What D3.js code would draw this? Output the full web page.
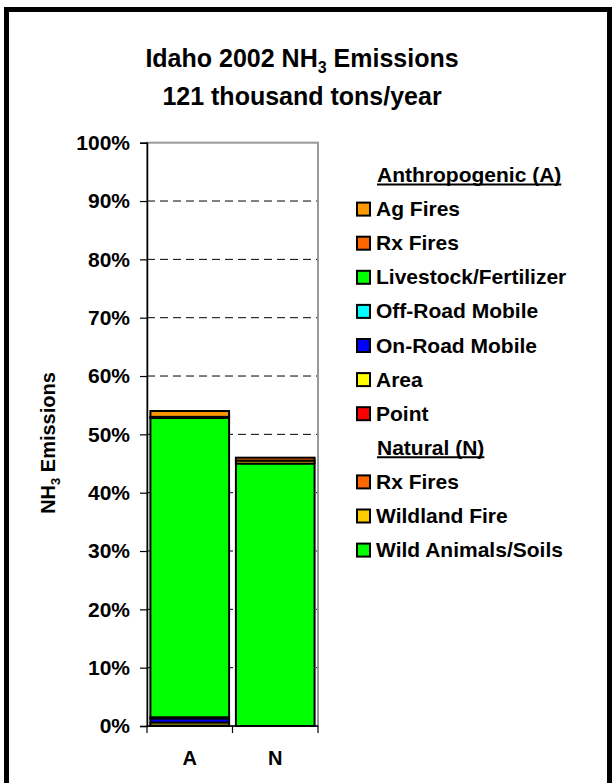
<!DOCTYPE html>
<html>
<head>
<meta charset="utf-8">
<script src="https://cdn.jsdelivr.net/npm/d3@7"></script>
<style>
  html, body { margin: 0; padding: 0; background: #fff; }
  svg { display: block; }
  text { font-family: "Liberation Sans", Arial, Helvetica, sans-serif; font-weight: bold; fill: #000; }
</style>
</head>
<body>
<script>
// ---- data ----
const categories = ["A", "N"];
// stacking order, bottom to top
const seriesNames = ["Wild Animals/Soils", "Wildland Fire", "Rx Fires (N)", "Point", "Area", "On-Road Mobile", "Off-Road Mobile", "Livestock/Fertilizer", "Rx Fires (A)", "Ag Fires"];
const seriesColors = ["#00FF00", "#FFCC00", "#FF6600", "#FF0000", "#FFFF00", "#0000FF", "#00FFFF", "#00FF00", "#FF6600", "#FF9900"];
const valuesA = [0, 0, 0, 0.1, 0.5, 0.7, 0.2, 51.3, 0.2, 1.0];
const valuesN = [45.0, 0.5, 0.5, 0, 0, 0, 0, 0, 0, 0];
const yTicks = [0, 10, 20, 30, 40, 50, 60, 70, 80, 90, 100];
const legendItems = [
  { label: "Anthropogenic (A)", header: true },
  { label: "Ag Fires", color: "#FF9900" },
  { label: "Rx Fires", color: "#FF6600" },
  { label: "Livestock/Fertilizer", color: "#00FF00" },
  { label: "Off-Road Mobile", color: "#00FFFF" },
  { label: "On-Road Mobile", color: "#0000FF" },
  { label: "Area", color: "#FFFF00" },
  { label: "Point", color: "#FF0000" },
  { label: "Natural (N)", header: true },
  { label: "Rx Fires", color: "#FF6600" },
  { label: "Wildland Fire", color: "#FFCC00" },
  { label: "Wild Animals/Soils", color: "#00FF00" }
];

// ---- build table ----
const table = categories.map((c, ci) => {
  const row = { cat: c };
  seriesNames.forEach((s, si) => { row[s] = (ci === 0 ? valuesA : valuesN)[si]; });
  return row;
});

const W = 613, H = 783;
const svg = d3.select("body").append("svg").attr("width", W).attr("height", H);

// outer frame
svg.append("rect").attr("x", 6.5).attr("y", 9.5).attr("width", 603).attr("height", 790)
  .attr("fill", "#fff").attr("stroke", "#000").attr("stroke-width", 5);

// scales
const plot = { left: 147, right: 318, top: 142.7, bottom: 726 };
const x = d3.scaleBand().domain(categories).range([plot.left, plot.right]).paddingInner(0.08).paddingOuter(0.04);
const y = d3.scaleLinear().domain([0, 100]).range([plot.bottom, plot.top]);

// gridlines
svg.append("g").selectAll("line").data(yTicks.filter(t => t > 0 && t < 100)).join("line")
  .attr("x1", plot.left).attr("x2", plot.right)
  .attr("y1", d => y(d)).attr("y2", d => y(d))
  .attr("stroke", "#000").attr("stroke-width", 1).attr("stroke-dasharray", "8,5");

// plot frame (grey)
svg.append("rect").attr("x", plot.left).attr("y", plot.top)
  .attr("width", plot.right - plot.left).attr("height", plot.bottom - plot.top)
  .attr("fill", "none").attr("stroke", "#999").attr("stroke-width", 2);

// stacked bars
const stack = d3.stack().keys(seriesNames);
const stacked = stack(table);
const gBars = svg.append("g");
stacked.forEach((layer, li) => {
  gBars.append("g").selectAll("rect")
    .data(layer.filter(d => d[1] - d[0] > 0))
    .join("rect")
    .attr("x", d => x(d.data.cat))
    .attr("width", x.bandwidth())
    .attr("y", d => y(d[1]))
    .attr("height", d => y(d[0]) - y(d[1]))
    .attr("fill", seriesColors[li])
    .attr("stroke", "#000").attr("stroke-width", 2);
});

// y axis
const yAxis = svg.append("g").attr("transform", `translate(${plot.left},0)`)
  .call(d3.axisLeft(y).tickValues(yTicks).tickFormat(d => d + "%").tickSize(7).tickPadding(10));
yAxis.select(".domain").attr("stroke", "#000").attr("stroke-width", 1.5);
yAxis.selectAll(".tick line").attr("stroke", "#000").attr("stroke-width", 1.2);
yAxis.selectAll("text").style("font-size", "21px").style("font-weight", "bold")
  .style("font-family", '"Liberation Sans", Arial, sans-serif').attr("fill", "#000");

// x axis
const xTickScale = d3.scaleLinear().domain([0, 2]).range([plot.left, plot.right]);
const xAxisG = svg.append("g").attr("transform", `translate(0,${plot.bottom})`);
xAxisG.append("line").attr("x1", plot.left).attr("x2", plot.right).attr("y1", 0).attr("y2", 0)
  .attr("stroke", "#000").attr("stroke-width", 1.5);
xAxisG.selectAll("line.t").data([0, 1, 2]).join("line").attr("class", "t")
  .attr("x1", d => xTickScale(d)).attr("x2", d => xTickScale(d)).attr("y1", 0).attr("y2", 7)
  .attr("stroke", "#000").attr("stroke-width", 1.2);
xAxisG.selectAll("text").data(categories).join("text")
  .attr("x", d => x(d) + x.bandwidth() / 2).attr("y", 39)
  .attr("text-anchor", "middle").style("font-size", "20px").text(d => d);

// title
const title = svg.append("text").attr("x", 302).attr("y", 66.7).attr("text-anchor", "middle").style("font-size", "25px");
title.append("tspan").text("Idaho 2002 NH");
title.append("tspan").attr("dy", 6).style("font-size", "16px").text("3");
title.append("tspan").attr("dy", -6).text(" Emissions");
svg.append("text").attr("x", 302).attr("y", 105).attr("text-anchor", "middle").style("font-size", "25px")
  .text("121 thousand tons/year");

// y axis title
const yt = svg.append("text").attr("transform", "translate(55,443) rotate(-90)")
  .attr("text-anchor", "middle").style("font-size", "20px");
yt.append("tspan").text("NH");
yt.append("tspan").attr("dy", 5).style("font-size", "13px").text("3");
yt.append("tspan").attr("dy", -5).text(" Emissions");

// legend
const legY0 = 175, legStep = 34.1;
const leg = svg.append("g");
legendItems.forEach((it, i) => {
  const cy = legY0 + i * legStep;
  if (it.header) {
    const t = leg.append("text").attr("x", 377).attr("y", cy + 7).style("font-size", "21px").text(it.label);
    const bb = t.node().getBBox();
    leg.append("line").attr("x1", bb.x).attr("x2", bb.x + bb.width)
      .attr("y1", cy + 9.5).attr("y2", cy + 9.5).attr("stroke", "#000").attr("stroke-width", 2);
  } else {
    leg.append("rect").attr("x", 357).attr("y", cy - 6.5).attr("width", 13).attr("height", 13)
      .attr("fill", it.color).attr("stroke", "#000").attr("stroke-width", 2);
    leg.append("text").attr("x", 376).attr("y", cy + 7).style("font-size", "21px").text(it.label);
  }
});
</script>
</body>
</html>
